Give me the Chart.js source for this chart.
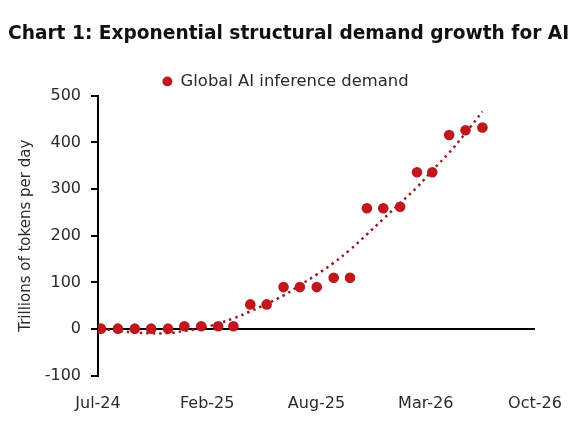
<!DOCTYPE html>
<html>
<head>
<meta charset="utf-8">
<script src="https://cdn.jsdelivr.net/npm/chart.js@4/dist/chart.umd.min.js"></script>
<style>
  html, body { margin: 0; padding: 0; background: #ffffff; }
  #wrap { width: 574px; height: 421px; }
</style>
</head>
<body>
<div id="wrap"><canvas id="c" width="574" height="421"></canvas></div>
<script>
// ---- data ----
const months = ['2024-07','2024-08','2024-09','2024-10','2024-11','2024-12',
                '2025-01','2025-02','2025-03','2025-04','2025-05','2025-06',
                '2025-07','2025-08','2025-09','2025-10','2025-11','2025-12',
                '2026-01','2026-02','2026-03','2026-04','2026-05','2026-06'];
const demand = [1, 1, 1, 1, 1, 6, 6, 6, 6, 53, 53, 90, 90, 90, 110, 110,
                259, 259, 262, 336, 336, 416, 426, 432];
const trend  = [1, -4, -7, -9, -8.5, -4, 2, 12, 23, 38, 54, 72, 94, 117, 142,
                170, 203, 236, 270, 304, 340, 378, 420, 466];
const xTickLabels = ['Jul-24', 'Feb-25', 'Aug-25', 'Mar-26', 'Oct-26'];
const yTicks = [-100, 0, 100, 200, 300, 400, 500];

const seriesName = 'Global AI inference demand';
const titleText = 'Chart 1: Exponential structural demand growth for AI';
const yTitle = 'Trillions of tokens per day';

// ---- date axis helpers ----
const DAY = 86400000;
const dayNum = (ym) => { const [y, m] = ym.split('-').map(Number); return Date.UTC(y, m - 1, 26) / DAY; };
const axisStart = Date.UTC(2024, 6, 20, 12) / DAY;
const tickStep = 200.5;
const axisEnd = axisStart + tickStep * (xTickLabels.length - 1);

const demandPts = months.map((m, i) => ({ x: dayNum(m), y: demand[i] }));
const trendPts = months.map((m, i) => ({ x: dayNum(m), y: trend[i] }));

const FONT = "'DejaVu Sans', sans-serif";
const TXT = '#2a2a2a';

const boxTweaks = {
  id: 'boxTweaks',
  afterLayout(chart) {
    const l = chart.legend;
    if (l) { l.left += 14; l.right += 14; }
    const t = chart.titleBlock;
    if (t) { t.right = chart.width; t.width = t.right - t.left; }
  }
};

new Chart(document.getElementById('c'), {
  type: 'scatter',
  plugins: [boxTweaks],
  data: {
    datasets: [
      {
        label: seriesName,
        data: demandPts,
        backgroundColor: '#c0171d',
        borderColor: '#c0171d',
        borderWidth: 0,
        pointRadius: 5.3,
        pointHoverRadius: 5.3,
        showLine: false,
        order: 1
      },
      {
        label: 'trend',
        type: 'line',
        data: trendPts,
        borderColor: '#9a1c22',
        borderWidth: 2.5,
        borderDash: [2.5, 4],
        pointRadius: 0,
        fill: false,
        tension: 0.4,
        order: 2
      }
    ]
  },
  options: {
    responsive: false,
    animation: false,
    devicePixelRatio: 1,
    layout: { padding: { left: 8, right: 39, top: 0, bottom: 8 } },
    plugins: {
      title: {
        display: true,
        text: titleText,
        align: 'start',
        color: '#111',
        font: { family: FONT, size: 18.6, weight: 'bold' },
        padding: { top: 22.7, bottom: 28.2 }
      },
      legend: {
        display: true,
        position: 'top',
        align: 'center',
        maxHeight: 22.5,
        labels: {
          filter: (item) => item.datasetIndex === 0,
          usePointStyle: true,
          pointStyle: 'circle',
          boxWidth: 10,
          boxHeight: 7,
          padding: 0,
          color: TXT,
          font: { family: FONT, size: 16.4 }
        }
      },
      tooltip: { enabled: false }
    },
    scales: {
      x: {
        type: 'linear',
        position: 'bottom',
        min: axisStart,
        max: axisEnd,
        afterBuildTicks: (scale) => {
          scale.ticks = xTickLabels.map((l, k) => ({ value: axisStart + k * tickStep }));
        },
        afterFit: (scale) => { scale.height = 37.2; },
        ticks: {
          autoSkip: false,
          maxRotation: 0,
          padding: 0,
          color: TXT,
          font: { family: FONT, size: 16 },
          callback: (v, i) => xTickLabels[i]
        },
        grid: {
          display: true,
          drawOnChartArea: false,
          drawTicks: true,
          tickLength: 18,
          tickColor: 'rgba(0,0,0,0)',
          color: 'rgba(0,0,0,0)'
        },
        border: { display: false }
      },
      y: {
        min: yTicks[0],
        max: yTicks[yTicks.length - 1],
        afterBuildTicks: (scale) => { scale.ticks = yTicks.map(v => ({ value: v })); },
        afterFit: (scale) => { scale.width = 90; },
        ticks: {
          padding: 10,
          color: TXT,
          font: { family: FONT, size: 16 }
        },
        title: {
          display: true,
          text: yTitle,
          color: TXT,
          font: { family: FONT, size: 15 },
          padding: { top: 9, bottom: 0 }
        },
        grid: {
          drawOnChartArea: true,
          color: (ctx) => (ctx.tick && ctx.tick.value === 0 ? '#000000' : 'rgba(0,0,0,0)'),
          lineWidth: 2,
          drawTicks: true,
          tickLength: 7,
          tickColor: '#000000',
          tickWidth: 2
        },
        border: { display: true, color: '#000000', width: 2 }
      }
    }
  }
});
</script>
</body>
</html>
